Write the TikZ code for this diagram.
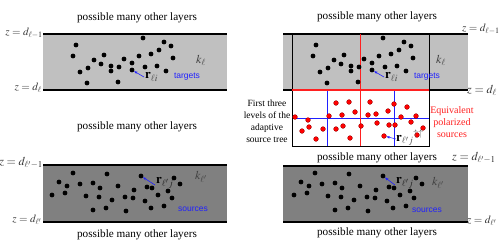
\documentclass[tikz,border=0pt]{standalone}
\usepackage{mathptmx}
\usepackage{fontspec}
\setmainfont{Liberation Serif}
\newfontfamily\sansf{Liberation Sans}
\usetikzlibrary{arrows.meta}
\definecolor{lgray}{HTML}{C0C0C0}
\definecolor{dgray}{HTML}{808080}
\definecolor{tblue}{HTML}{2020FF}
\definecolor{tred}{HTML}{FF2020}
\begin{document}
\begin{tikzpicture}[x=1pt,y=-1pt,
  layertxt/.style={font=\fontsize{11.2}{12}\selectfont, inner sep=0pt},
  zlab/.style={font=\fontsize{11}{12}\selectfont, inner sep=0pt, text=black!80},
  zbig/.style={font=\fontsize{12}{13}\selectfont, inner sep=0pt, text=black!80},
  klab/.style={font=\fontsize{12}{13}\selectfont, inner sep=0pt, text=black!75},
  rlab/.style={font=\fontsize{13}{14}\selectfont, inner sep=0pt},
  tag/.style={font=\sansf\fontsize{8.5}{10}\selectfont, text=tblue, inner sep=0pt},
  bound/.style={line width=1.1pt},
  ptr/.style={tblue, line width=0.6pt, -{Stealth[length=3.5pt,width=2.6pt]}, shorten >=2.4pt},
  bdot/.style={fill=black},
  rdot/.style={fill=red, draw=red!55!black, line width=0.3pt}
]
\useasboundingbox (0,0) rectangle (503,244);
% ---------------- layers
\fill[lgray] (43,34) rectangle (227,90);
\fill[lgray] (283,34) rectangle (468,90);
\fill[dgray] (43,165) rectangle (227,222);
\fill[dgray] (283,166) rectangle (468,222);
\draw[bound] (43,34) -- (227,34);
\draw[bound] (43,90) -- (227,90);
\draw[bound] (43,165) -- (227,165);
\draw[bound] (43,222) -- (227,222);
\draw[bound] (283,34) -- (468,34);
\draw[bound] (283,90) -- (468,90);
\draw[bound] (283,166) -- (468,166);
\draw[bound] (283,222) -- (468,222);
% ---------------- tree box
\fill[white] (292,90) rectangle (429,146);
\draw[tblue, line width=0.9pt] (327,90) -- (327,146);
\draw[tblue, line width=0.9pt] (394,90) -- (394,146);
\draw[tblue, line width=0.9pt] (292,118) -- (429,118);
\draw[tred, line width=0.9pt] (360,34) -- (360,146);
\draw[line width=0.9pt] (292,34) -- (292,146) -- (429,146) -- (429,34);
\draw[tred, line width=1.1pt] (292,90) -- (429,90);
% ---------------- dots
\foreach \x/\y in {76/45,73/56,143/38,164/42,171/46,159/50,151/54,139/56,173/58,104/55,94/60,101/64,124/59,132/63,111/66,119/67,88/68,80/72,111/71,132/70,145/67,157/66,166/71,87/83,118/82}{
  \fill[bdot] (\x,\y) circle[radius=2.4pt];
  \fill[bdot] (\x+240,\y) circle[radius=2.4pt];
}
\foreach \x/\y in {73/173,107/174,141/176,59/182,67/186,80/184,93/183,100/188,118/186,134/190,147/187,152/188,168/191,174/178,180/184,52/195,65/193,86/196,99/197,112/200,125/197,133/198,145/201,158/195,172/198,93/210,106/208,126/211,151/208,164/206}{
  \fill[bdot] (\x,\y) circle[radius=2.4pt];
  \fill[bdot] (\x+242,\y) circle[radius=2.4pt];
}
\foreach \x/\y in {295/117,308/120,329/116,336/103,349/102,370/102,355/112,342/115,368/115,376/114,388/111,394/104,407/107,401/117,416/116,411/122,302/131,309/127,323/129,336/129,343/126,361/126,377/123,389/125,395/125,423/128,417/135,316/139,350/138,384/136}{
  \filldraw[rdot] (\x,\y) circle[radius=2.4pt];
}
\coordinate (d1) at (132,70);
\coordinate (d2) at (372,70);
\coordinate (d3) at (141,176);
\coordinate (d4) at (383,176);
\coordinate (d5) at (384,136);
% ---------------- layer texts
\node[layertxt] (p1) at (137,18) {possible many other layers};
\node[layertxt] (p2) at (137,127) {possible many other layers};
\node[layertxt] (p3) at (137,235) {possible many other layers};
\node[layertxt] (p4) at (377,17) {possible many other layers};
\node[layertxt] (p5) at (377,158) {possible many other layers};
\node[layertxt] (p6) at (377,233) {possible many other layers};
% ---------------- z labels
\node[zlab, anchor=east] (z1) at (43,33) {$z=d_{\ell-1}$};
\node[zlab, anchor=east] (z2) at (42,88) {$z=d_{\ell}$};
\node[zbig, anchor=east] (z3) at (43,163) {$z=d_{\ell'-1}$};
\node[zlab, anchor=east] (z4) at (42,220) {$z=d_{\ell'}$};
\node[zlab, anchor=west] (z5) at (462,29) {$z=d_{\ell-1}$};
\node[zbig, anchor=west] (z6) at (467,90) {$z=d_{\ell}$};
\node[zbig, anchor=west] (z7) at (452,158) {$z=d_{\ell'-1}$};
\node[zlab, anchor=west] (z8) at (467,221) {$z=d_{\ell'}$};
% ---------------- k labels
\node[klab] (k1) at (201,60) {$k_{\ell}$};
\node[klab] (k2) at (441,60) {$k_{\ell}$};
\node[klab] (k3) at (201,177) {$k_{\ell'}$};
\node[klab] (k4) at (438,183) {$k_{\ell'}$};
% ---------------- r labels and pointers
\node[rlab, anchor=west] (r1) at (145,77) {$\mathbf{r}_{\color{black!70}\ell i}$};
\node[rlab, anchor=west] (r2) at (385,77) {$\mathbf{r}_{\color{black!70}\ell i}$};
\node[rlab, anchor=west] (r3) at (156,183) {$\mathbf{r}_{\color{black!85}\ell' j}$};
\node[rlab, anchor=west] (r4) at (396,183) {$\mathbf{r}_{\color{black!85}\ell' j}$};
\node[rlab, anchor=west] (r5) at (396,138) {$\mathbf{r}_{\color{black!70}\ell' j}^{\color{black!60}\uparrow\uparrow}$};
\draw[ptr] ([xshift=-1pt]r1.west) -- (d1);
\draw[ptr] ([xshift=-1pt]r2.west) -- (d2);
\draw[ptr] ([xshift=-1pt,yshift=-2pt]r3.west) -- (d3);
\draw[ptr] ([xshift=-1pt,yshift=-2pt]r4.west) -- (d4);
\draw[ptr] ([xshift=0pt,yshift=-1pt]r5.west) -- (d5);
% ---------------- tags
\node[tag] (t1) at (187,77) {targets};
\node[tag] (t2) at (427,77) {targets};
\node[tag] (t3) at (193,209) {sources};
\node[tag] (t4) at (427,210) {sources};
% ---------------- side texts
\node[font=\fontsize{9.5}{12}\selectfont, align=center, inner sep=0pt] (ft) at (267,121)
  {First three\\levels of the\\adaptive\\source tree};
\node[font=\fontsize{10}{12}\selectfont, align=center, inner sep=0pt, text=tred] (eq) at (452,122)
  {Equivalent\\polarized\\sources};
\end{tikzpicture}
\end{document}
